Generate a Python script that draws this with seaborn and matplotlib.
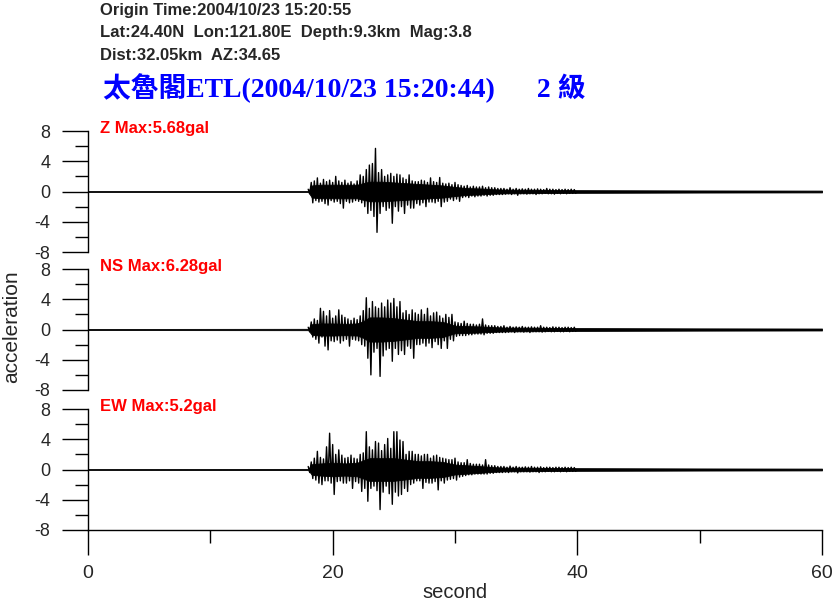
import matplotlib
matplotlib.use("Agg")
import matplotlib.pyplot as plt
import seaborn as sns
import numpy as np

# --- header info ---
origin_line = "Origin Time:2004/10/23 15:20:55"
loc_line = "Lat:24.40N  Lon:121.80E  Depth:9.3km  Mag:3.8"
dist_line = "Dist:32.05km  AZ:34.65"
station_title = "太魯閣ETL(2004/10/23 15:20:44)      2 級"

channels = ["Z Max:5.68gal", "NS Max:6.28gal", "EW Max:5.2gal"]

# --- solid core of each trace: half-width of the black band (seconds, gal) ---
band_t = [0, 18.0, 18.3, 19, 20, 21, 22, 22.5, 23, 24, 25, 26, 27, 28, 29,
          30, 31, 32, 33, 34, 36, 38, 40, 45, 50, 60]
band_z = [0.06, 0.06, 0.8, 0.9, 0.9, 0.9, 0.9, 1.1, 1.3, 1.3, 1.2, 1.1, 1.0, 0.9, 0.8,
          0.6, 0.45, 0.4, 0.3, 0.25, 0.22, 0.2, 0.18, 0.16, 0.14, 0.12]
band_ns = [0.07, 0.09, 0.7, 0.8, 0.8, 0.75, 0.8, 1.1, 1.6, 1.6, 1.5, 1.3, 1.1, 1.1, 1.0,
           0.5, 0.45, 0.4, 0.32, 0.26, 0.23, 0.21, 0.19, 0.17, 0.15, 0.13]
band_ew = [0.06, 0.08, 0.7, 0.8, 0.9, 0.8, 0.9, 1.2, 1.5, 1.5, 1.5, 1.3, 1.1, 1.1, 1.0,
           0.65, 0.55, 0.45, 0.32, 0.25, 0.22, 0.2, 0.18, 0.16, 0.14, 0.12]

# --- peak up / peak down every 0.25 s from 18.0 s to 39.75 s ---
swing_start, swing_step = 18.0, 0.25

z_hi = [0.3, 1.2, 1.4, 1.8, 1.1, 1.6, 1.3, 1.5,
        1.2, 2.0, 1.4, 1.2, 1.5, 1.1, 1.3, 1.0,
        1.4, 2.2, 2.0, 2.9, 3.5, 3.7, 5.7, 2.5,
        2.9, 2.0, 2.2, 2.4, 2.0, 2.3, 2.2, 1.8,
        1.6, 2.2, 1.4, 1.3, 1.3, 1.5, 1.4, 1.2,
        1.8, 1.3, 1.2, 1.85, 1.1, 1.0, 1.1, 0.9,
        1.2, 0.9, 0.8, 0.7, 0.8, 0.6, 0.7, 0.6,
        0.6, 0.7, 0.5, 0.6, 0.5, 0.5, 0.4, 0.4,
        0.4, 0.3, 0.5, 0.3, 0.4, 0.3, 0.35, 0.3,
        0.4, 0.3, 0.3, 0.35, 0.3, 0.25, 0.4, 0.3,
        0.3, 0.25, 0.3, 0.25, 0.3, 0.25, 0.3, 0.25]
z_lo = [-0.3, -1.5, -1.2, -1.4, -1.3, -1.6, -1.8, -1.2,
        -1.4, -1.3, -1.6, -2.2, -1.3, -1.5, -1.4, -1.2,
        -1.3, -1.5, -2.0, -2.9, -2.5, -3.3, -5.4, -2.9,
        -2.0, -2.5, -2.2, -4.2, -2.0, -2.6, -2.0, -2.9,
        -1.8, -2.2, -2.2, -1.6, -1.8, -1.5, -2.0, -1.4,
        -1.4, -1.5, -1.3, -2.0, -1.4, -1.3, -1.0, -1.2,
        -1.0, -1.3, -0.8, -0.7, -0.8, -0.6, -0.7, -0.6,
        -0.6, -0.5, -0.6, -0.5, -0.5, -0.4, -0.4, -0.4,
        -0.35, -0.3, -0.4, -0.3, -0.5, -0.3, -0.3, -0.35,
        -0.3, -0.3, -0.4, -0.3, -0.3, -0.25, -0.3, -0.3,
        -0.35, -0.25, -0.3, -0.25, -0.3, -0.25, -0.25, -0.25]

ns_hi = [0.3, 1.0, 1.4, 1.2, 2.8, 2.4, 1.8, 2.5,
         1.5, 1.8, 2.6, 1.9, 1.6, 1.4, 1.2, 1.5,
         1.3, 1.8, 2.5, 4.2, 2.8, 3.7, 3.0, 2.8,
         3.5, 3.0, 3.9, 3.5, 4.1, 3.0, 3.7, 2.2,
         2.5, 2.0, 2.6, 2.2, 2.0, 2.6, 2.0, 2.8,
         1.8, 2.2, 2.3, 1.8, 1.5, 2.0, 1.6, 2.0,
         1.0, 0.9, 0.8, 1.1, 0.8, 0.7, 0.7, 0.6,
         0.7, 1.4, 0.6, 0.5, 0.5, 0.5, 0.4, 0.4,
         0.5, 0.3, 0.4, 0.3, 0.35, 0.3, 0.4, 0.3,
         0.3, 0.35, 0.3, 0.3, 0.5, 0.3, 0.3, 0.25,
         0.35, 0.3, 0.3, 0.25, 0.3, 0.3, 0.25, 0.3]
ns_lo = [-0.3, -1.0, -1.3, -1.8, -1.0, -2.2, -2.7, -1.5,
         -1.6, -1.4, -1.8, -1.5, -1.3, -2.2, -1.3, -1.4,
         -1.5, -2.0, -2.2, -3.8, -6.0, -3.0, -2.5, -6.2,
         -3.5, -2.7, -2.5, -4.2, -2.5, -3.3, -2.8, -3.3,
         -2.2, -2.5, -3.8, -2.0, -2.0, -1.8, -2.2, -1.8,
         -2.4, -1.6, -2.0, -2.5, -1.5, -2.5, -1.3, -1.5,
         -0.9, -0.8, -0.8, -0.8, -0.7, -0.7, -0.6, -0.6,
         -0.6, -0.7, -0.5, -0.5, -0.5, -0.4, -0.4, -0.4,
         -0.4, -0.35, -0.3, -0.4, -0.3, -0.3, -0.35, -0.3,
         -0.4, -0.3, -0.3, -0.3, -0.35, -0.3, -0.25, -0.3,
         -0.3, -0.25, -0.3, -0.3, -0.25, -0.3, -0.25, -0.25]

ew_hi = [0.4, 1.0, 1.5, 2.4, 1.6, 1.4, 3.0, 4.8,
         3.3, 2.0, 2.6, 1.9, 1.5, 1.6, 1.9, 1.5,
         1.4, 2.0, 2.2, 5.0, 3.0, 2.6, 3.7, 3.5,
         2.5, 3.3, 4.1, 2.8, 5.0, 5.0, 3.9, 3.7,
         2.0, 2.4, 2.4, 2.0, 2.0, 1.8, 2.0, 2.0,
         1.5, 1.8, 1.9, 1.6, 1.5, 1.4, 1.3, 1.3,
         1.5, 1.0, 0.9, 0.9, 1.3, 0.8, 0.7, 0.7,
         0.7, 0.6, 1.3, 0.6, 0.5, 0.5, 0.4, 0.4,
         0.4, 0.3, 0.45, 0.3, 0.4, 0.3, 0.3, 0.35,
         0.3, 0.4, 0.3, 0.3, 0.35, 0.25, 0.3, 0.3,
         0.25, 0.3, 0.3, 0.25, 0.3, 0.25, 0.3, 0.25]
ew_lo = [-0.4, -1.2, -1.4, -1.8, -2.0, -1.5, -1.5, -1.8,
         -3.3, -1.6, -1.5, -1.8, -1.8, -1.5, -2.5, -1.6,
         -1.8, -2.9, -2.5, -4.2, -2.5, -2.2, -2.8, -5.3,
         -3.0, -2.2, -3.2, -4.6, -3.0, -3.5, -3.3, -2.5,
         -2.9, -2.0, -1.8, -1.5, -1.5, -2.5, -1.7, -1.8,
         -1.8, -1.6, -2.7, -1.5, -1.8, -1.4, -1.3, -1.2,
         -1.4, -1.0, -0.9, -0.8, -0.7, -0.7, -0.6, -0.6,
         -0.6, -0.6, -0.6, -0.5, -0.5, -0.4, -0.4, -0.4,
         -0.35, -0.4, -0.3, -0.3, -0.45, -0.3, -0.3, -0.3,
         -0.35, -0.3, -0.3, -0.4, -0.3, -0.3, -0.25, -0.3,
         -0.3, -0.25, -0.3, -0.25, -0.3, -0.25, -0.25, -0.25]

traces = [(band_z, z_hi, z_lo), (band_ns, ns_hi, ns_lo), (band_ew, ew_hi, ew_lo)]

sns.set_theme(style="white")
plt.rcParams["font.family"] = ["Liberation Sans", "DejaVu Sans"]

fig = plt.figure(figsize=(8.35, 6.09), dpi=100)

left, width, height = 88 / 835, 734 / 835, 121 / 609
bottoms = [(609 - 252) / 609, (609 - 390) / 609, (609 - 530) / 609]

for i, (band, hi, lo) in enumerate(traces):
    ax = fig.add_axes([left, bottoms[i], width, height])
    band = np.array(band)
    ax.fill_between(band_t, -band, band, color="black", lw=0.6)

    # up swing at each step, down swing half a step later
    t_up = swing_start + swing_step * np.arange(len(hi))
    tt = np.column_stack([t_up, t_up + swing_step / 2]).ravel()
    yy = np.column_stack([hi, lo]).ravel()
    ax.plot(tt, yy, color="black", lw=1.0)

    ax.set_xlim(0, 60)
    ax.set_ylim(-8, 8)
    ax.set_yticks([-8, -4, 0, 4, 8])
    ax.set_yticks([-6, -2, 2, 6], minor=True)
    ax.set_yticklabels(["-8", "-4", "0", "4", "8"])
    for s in ["top", "right"]:
        ax.spines[s].set_visible(False)
    ax.spines["left"].set_color("black")
    ax.spines["left"].set_linewidth(1.0)
    ax.tick_params(axis="y", which="major", direction="out", length=19, width=1.0,
                   color="black", labelsize=13, pad=8, left=True)
    ax.tick_params(axis="y", which="minor", direction="out", length=9.5, width=1.0,
                   color="black", left=True)
    ax.text(0.016, 1.02, channels[i], transform=ax.transAxes, color="#ff0000",
            fontsize=12, fontweight="bold", va="center", ha="left")

    if i < 2:
        ax.spines["bottom"].set_visible(False)
        ax.tick_params(axis="x", which="both", bottom=False, labelbottom=False)
    else:
        ax.spines["bottom"].set_color("black")
        ax.spines["bottom"].set_linewidth(1.0)
        ax.set_xticks([0, 20, 40, 60])
        ax.set_xticks([10, 30, 50], minor=True)
        ax.tick_params(axis="x", which="major", direction="out", length=18, width=1.0,
                       color="black", labelsize=14, pad=7, bottom=True)
        ax.tick_params(axis="x", which="minor", direction="out", length=9, width=1.0,
                       color="black", bottom=True)
        ax.set_xlabel("second", fontsize=14.5, labelpad=1)
    ax.grid(False)

fig.text(12 / 835, 1 - 327 / 609, "acceleration", rotation=90, fontsize=15,
         va="center", ha="center")

fig.text(100 / 835, 1 - 10 / 609, origin_line, fontsize=12, fontweight="bold", va="center")
fig.text(100 / 835, 1 - 33 / 609, loc_line, fontsize=12, fontweight="bold", va="center")
fig.text(100 / 835, 1 - 56 / 609, dist_line, fontsize=12, fontweight="bold", va="center")
fig.text(103 / 835, 1 - 88 / 609, station_title, fontsize=20, fontweight="bold",
         color="#0000ff", va="center", family=["Liberation Serif", "Noto Sans CJK TC"])

fig.savefig("out.png", dpi=100, facecolor="white")
